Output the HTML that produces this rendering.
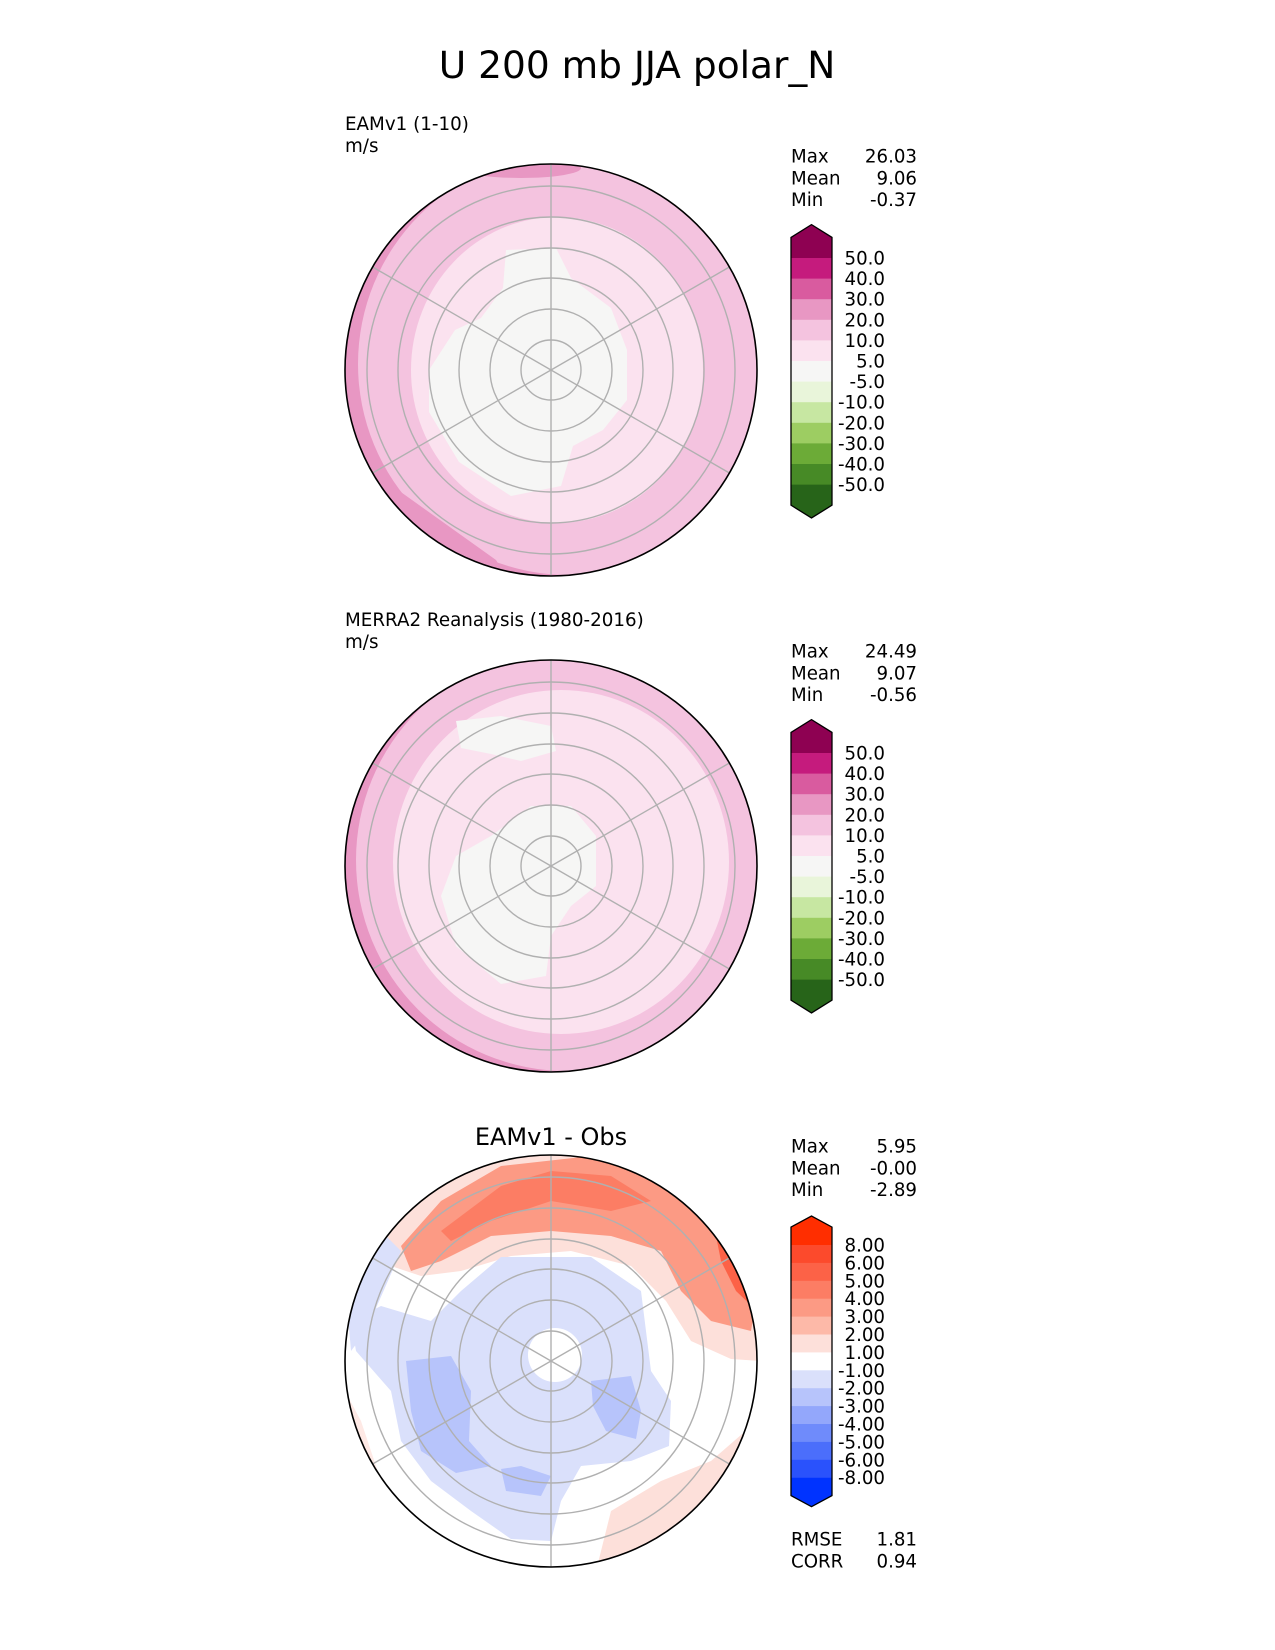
<!DOCTYPE html>
<html><head><meta charset="utf-8">
<style>
body{margin:0;background:#fff;}
svg{display:block;font-family:"Liberation Sans","DejaVu Sans",sans-serif;}
</style></head>
<body>
<svg id="fig" width="1275" height="1650" viewBox="0 0 1275 1650" xmlns="http://www.w3.org/2000/svg">
<text x="637" y="78" text-anchor="middle" font-size="37.5" font-family="DejaVu Sans, sans-serif">U 200 mb JJA polar_N</text>
<defs>
<clipPath id="c1"><circle cx="0" cy="0" r="206"/></clipPath>
</defs>

<!-- Panel 1 -->
<g transform="translate(551,370)">
<text x="-206" y="-240" font-size="18.3" font-family="DejaVu Sans, sans-serif">EAMv1 (1-10)</text>
<text x="-206" y="-218" font-size="18.3" font-family="DejaVu Sans, sans-serif">m/s</text>
<g clip-path="url(#c1)">
<circle r="206" fill="#e897c3"/>
<circle cx="18" cy="-6" r="211" fill="#f4c3df"/>
<path d="M-204,30 L-190,75 L-160,115 L-125,140 L-90,165 L-55,190 L-40,215 L-215,215Z" fill="#e897c3"/>
<ellipse cx="-30" cy="-202" rx="60" ry="10" fill="#e897c3"/>
<ellipse cx="6" cy="0" rx="146" ry="153" fill="#fbe2ef"/>
<path d="M-45,-120 L5,-122 L20,-92 L60,-62 L76,-20 L76,30 L52,60 L22,76 L10,116 L-40,126 L-92,92 L-122,42 L-122,0 L-96,-40 L-70,-52 L-48,-82Z" fill="#f6f6f5"/>
</g>
<g class="grid"></g>
<circle r="206" fill="none" stroke="#000" stroke-width="1.6"/>
</g>

<!-- Panel 2 -->
<g transform="translate(551,866)">
<text x="-206" y="-240" font-size="18.3" font-family="DejaVu Sans, sans-serif">MERRA2 Reanalysis (1980-2016)</text>
<text x="-206" y="-218" font-size="18.3" font-family="DejaVu Sans, sans-serif">m/s</text>
<g clip-path="url(#c1)">
<circle r="206" fill="#e897c3"/>
<circle cx="16" cy="-6" r="211" fill="#f4c3df"/>
<path d="M-204,70 L-180,105 L-150,130 L-115,160 L-85,190 L-70,215 L-215,215Z" fill="#e897c3"/>
<ellipse cx="10" cy="-4" rx="168" ry="172" fill="#fbe2ef"/>
<path d="M-95,-145 L-50,-150 L0,-140 L5,-115 L-30,-105 L-60,-112 L-90,-118Z" fill="#f6f6f5"/>
<path d="M-20,-60 L20,-60 L45,-30 L45,20 L20,40 L0,70 L-5,110 L-50,118 L-95,80 L-110,30 L-95,-10 L-60,-30Z" fill="#f6f6f5"/>
</g>
<g class="grid"></g>
<circle r="206" fill="none" stroke="#000" stroke-width="1.6"/>
</g>

<!-- Panel 3 -->
<g transform="translate(551,1361)">
<text x="0" y="-216" text-anchor="middle" font-size="24" font-family="DejaVu Sans, sans-serif">EAMv1 - Obs</text>
<g clip-path="url(#c1)">
<circle r="206" fill="#ffffff"/>
<path d="M-206,-120 L-170,-150 L-120,-180 L-60,-210 L120,-210 L200,-120 L210,0 L180,-2 L140,-20 L115,-60 L80,-95 L20,-110 L-40,-105 L-90,-90 L-130,-85 L-160,-95Z" fill="#fde0da"/>
<path d="M-150,-115 L-110,-160 L-50,-195 L40,-205 L120,-180 L180,-140 L205,-60 L200,-30 L160,-40 L130,-70 L110,-110 L60,-125 L0,-130 L-60,-125 L-110,-100 L-140,-90Z" fill="#fc9a84"/>
<path d="M-110,-130 L-50,-175 L0,-190 L60,-185 L100,-160 L60,-150 L0,-160 L-60,-140 L-100,-120Z" fill="#fc7d64"/>
<path d="M165,-125 L195,-110 L206,-50 L185,-70 L170,-100Z" fill="#fc6247"/>
<path d="M-206,-80 L-170,-130 L-150,-110 L-185,-30 L-200,-10Z" fill="#dae0fb"/>
<path d="M-50,-104 L40,-104 L90,-70 L95,-30 L100,10 L120,40 L118,85 L80,100 L30,105 L10,140 L0,180 L-40,178 L-80,150 L-120,120 L-150,80 L-160,30 L-195,-10 L-200,-40 L-170,-55 L-120,-40 L-90,-70Z" fill="#dae0fb"/>
<circle cx="4" cy="-6" r="27" fill="#ffffff"/>
<path d="M-145,0 L-100,-5 L-80,30 L-82,80 L-60,105 L-95,112 L-130,90 L-140,50Z" fill="#b7c4fb"/>
<path d="M40,20 L80,15 L90,50 L85,78 L55,70 L42,45Z" fill="#b7c4fb"/>
<path d="M-50,108 L-30,105 L0,115 L-10,135 L-45,130Z" fill="#b7c4fb"/>
<path d="M46,206 L60,150 L110,120 L160,100 L206,60 L206,206Z" fill="#fde0da"/>
<path d="M-206,30 L-190,60 L-170,120 L-150,160 L-140,206 L-206,206Z" fill="#fde0da" opacity="0.7"/>
</g>
<g class="grid"></g>
<circle r="206" fill="none" stroke="#000" stroke-width="1.6"/>
</g>
<g id="bars"></g>
</svg>
<script>
const NS="http://www.w3.org/2000/svg";
const gridRadii=[30,61,92,122,153,184];
const meridianAngles=[90,30,-30];
document.querySelectorAll('g.grid').forEach(g=>{
  
  
  gridRadii.forEach(r=>{const c=document.createElementNS(NS,'circle');c.setAttribute('r',r);c.setAttribute('fill','none');c.setAttribute('stroke','#b0b0b0');c.setAttribute('stroke-width','1.4');
    
    
    g.appendChild(c);});
  meridianAngles.forEach(a=>{const t=a*Math.PI/180;const l=document.createElementNS(NS,'line');
    l.setAttribute('x1',-206*Math.cos(t));l.setAttribute('y1',206*Math.sin(t));l.setAttribute('x2',206*Math.cos(t));l.setAttribute('y2',-206*Math.sin(t));
    l.setAttribute('stroke','#b0b0b0');l.setAttribute('stroke-width','1.4');
    
    
    g.appendChild(l);});
});

const fieldColors=["#8e0152","#c51b7d","#d95b9f","#e897c3","#f4c3df","#fbe2ef","#f6f6f5","#e9f5da","#c7e7a2","#9dcd62","#6cab37","#478a26","#276419"];
const fieldLabels=["50.0","40.0","30.0","20.0","10.0","5.0","-5.0","-10.0","-20.0","-30.0","-40.0","-50.0"];
const diffColors=["#ff2e00","#fc4a2c","#fc6247","#fc7d64","#fc9a84","#fdb9a8","#fde0da","#ffffff","#dae0fb","#b7c4fb","#93a7fb","#6f8bfb","#4b6efb","#2a52fc","#0033ff"];
const diffLabels=["8.00","6.00","5.00","4.00","3.00","2.00","1.00","-1.00","-2.00","-3.00","-4.00","-5.00","-6.00","-8.00"];
const statNames=["Max","Mean","Min"];
const modelStats=["26.03","9.06","-0.37"];
const obsStats=["24.49","9.07","-0.56"];
const diffStats=["5.95","-0.00","-2.89"];
const metricNames=["RMSE","CORR"];
const metricValues=["1.81","0.94"];

const bars=document.getElementById('bars');
function txt(x,y,s,anchor,name){const t=document.createElementNS(NS,'text');t.setAttribute('x',x);t.setAttribute('y',y);t.setAttribute('font-size','18.2');t.setAttribute('font-family','DejaVu Sans, sans-serif');if(anchor)t.setAttribute('text-anchor',anchor);t.textContent=s;
  
  
  bars.appendChild(t);}
function stats(y0,names,vals,pre){names.forEach((n,i)=>{txt(791,y0+i*21.8+6.5,n,null,pre+'-label');txt(917,y0+i*21.8+6.5,vals[i],'end',pre+'-value');});}
function colorbar(first,step,colors,labels,name){
  const x0=791,w=41,n=labels.length,last=first+(n-1)*step,ext=step*1.0,tip=step*0.62;
  const g=document.createElementNS(NS,'g');
  
  
  bars.appendChild(g);
  const top=first-ext, bot=last+ext;
  function poly(pts,fill){const p=document.createElementNS(NS,'polygon');p.setAttribute('points',pts);p.setAttribute('fill',fill);g.appendChild(p);return p;}
  poly(`${x0},${first} ${x0},${top} ${x0+w/2},${top-tip} ${x0+w},${top} ${x0+w},${first}`,colors[0]);
  for(let i=0;i<n-1;i++){const r=document.createElementNS(NS,'rect');r.setAttribute('x',x0);r.setAttribute('y',first+i*step);r.setAttribute('width',w);r.setAttribute('height',step+0.5);r.setAttribute('fill',colors[i+1]);g.appendChild(r);}
  poly(`${x0},${last} ${x0},${bot} ${x0+w/2},${bot+tip} ${x0+w},${bot} ${x0+w},${last}`,colors[colors.length-1]);
  const o=poly(`${x0},${top} ${x0+w/2},${top-tip} ${x0+w},${top} ${x0+w},${bot} ${x0+w/2},${bot+tip} ${x0},${bot}`,'none');
  o.setAttribute('stroke','#000');o.setAttribute('stroke-width','1.3');
  labels.forEach((l,i)=>txt(885,first+i*step+6.5,l,'end',name+'-tick'));
}
stats(156,statNames,modelStats,'model-stat');
colorbar(258,20.6,fieldColors,fieldLabels,'model-colorbar');
stats(651,statNames,obsStats,'obs-stat');
colorbar(753,20.6,fieldColors,fieldLabels,'obs-colorbar');
stats(1146,statNames,diffStats,'diff-stat');
colorbar(1245,17.9,diffColors,diffLabels,'diff-colorbar');
stats(1539,metricNames,metricValues,'diff-metric');
</script>
</body></html>
